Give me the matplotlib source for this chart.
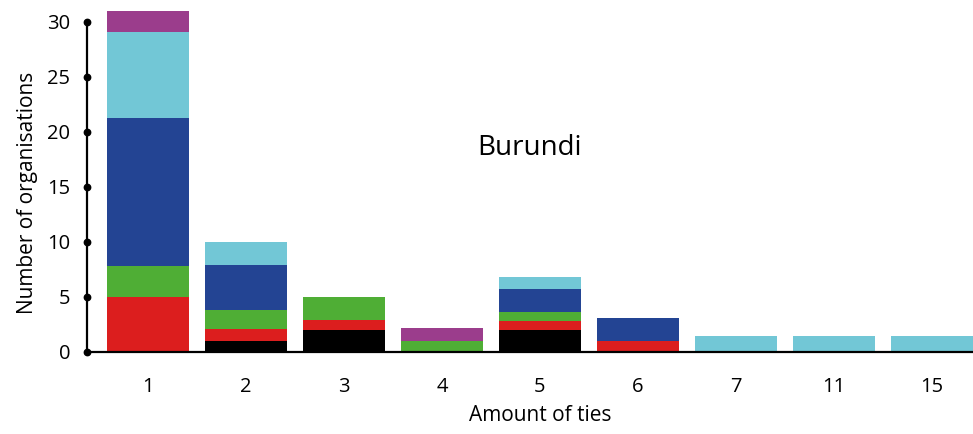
"""
Burundi: number of organisations by amount of ties (stacked bars).
Produces: out.png
"""
import numpy as np
import matplotlib.pyplot as plt

# ── Data ──────────────────────────────────────────────────────────────────────
ties   = ["1", "2", "3", "4", "5", "6", "7", "11", "15"]
black  = [0.0, 1.0, 2.0, 0.0, 1.95, 0.0, 0.0, 0.0, 0.0]
red    = [5.0, 1.05, 0.9, 0.0, 0.83, 0.97, 0.0, 0.0, 0.0]
green  = [2.8, 1.75, 2.1, 0.97, 0.82, 0.0, 0.0, 0.0, 0.0]
blue   = [13.5, 4.1, 0.0, 0.0, 2.1, 2.08, 0.0, 0.0, 0.0]
cyan   = [7.8, 2.1, 0.0, 0.0, 1.1, 0.0, 1.4, 1.4, 1.4]
purple = [1.9, 0.0, 0.0, 1.15, 0.0, 0.0, 0.0, 0.0, 0.0]
y_ticks = [0, 5, 10, 15, 20, 25, 30]

layers = [
    (black,  "#000000"),
    (red,    "#dc1e1e"),
    (green,  "#4fae35"),
    (blue,   "#234493"),
    (cyan,   "#72c7d6"),
    (purple, "#9b3d8c"),
]

plt.rcParams["font.family"] = ["Open Sans", "DejaVu Sans"]

fig = plt.figure(figsize=(9.73, 4.34), dpi=100)
fig.patch.set_facecolor("white")
ax = fig.add_axes([87 / 973, (434 - 351.5) / 434, 1 - 87 / 973, 351.5 / 434])

x = np.arange(len(ties))
bottom = np.zeros(len(ties))
for vals, col in layers:
    vals = np.array(vals)
    ax.bar(x, vals, bottom=bottom, width=0.837, color=col, linewidth=0, zorder=2)
    bottom += vals

ax.set_xlim(-0.622, len(ties) - 1 + 0.4185)
ax.set_ylim(0, 32.0)

# ── Axes styling ──────────────────────────────────────────────────────────────
for s in ["top", "right"]:
    ax.spines[s].set_visible(False)
ax.spines["left"].set_bounds(0, 30)
ax.spines["left"].set_linewidth(1.6)
ax.spines["bottom"].set_linewidth(1.6)
ax.spines["left"].set_zorder(3)
ax.spines["bottom"].set_zorder(3)

ax.set_yticks(y_ticks)
ax.set_yticklabels([str(t) for t in y_ticks], fontsize=14.5)
ax.tick_params(axis="y", length=0, pad=12)
ax.plot(np.zeros(len(y_ticks)), y_ticks, "o", color="black", markersize=4.6,
        transform=ax.get_yaxis_transform(), clip_on=False, zorder=4)

ax.set_xticks(x)
ax.set_xticklabels(ties, fontsize=14.5)
ax.tick_params(axis="x", length=0, pad=18)

ax.set_xlabel("Amount of ties", fontsize=15)
ax.set_ylabel("Number of organisations", fontsize=15)
ax.xaxis.set_label_coords(0.512, -0.153)
ax.yaxis.set_label_coords(-0.055, 0.451)

ax.text(0.50, 0.579, "Burundi", transform=ax.transAxes, fontsize=20,
        ha="center", va="center")

fig.savefig("out.png", dpi=100, facecolor="white")
